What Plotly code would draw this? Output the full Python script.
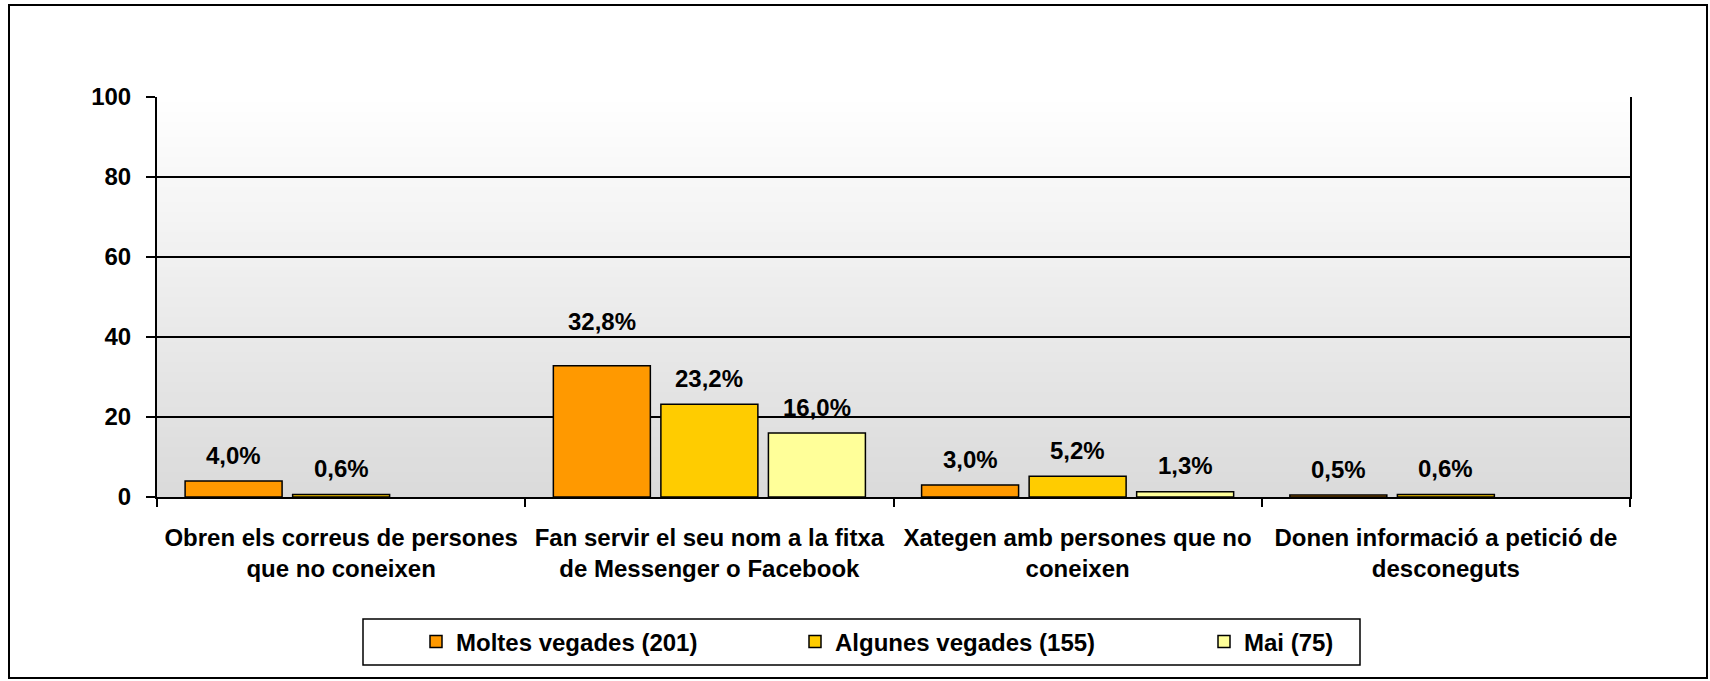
import plotly.graph_objects as go

categories = [
    "Obren els correus de persones<br>que no coneixen",
    "Fan servir el seu nom a la fitxa<br>de Messenger o Facebook",
    "Xategen amb persones que no<br>coneixen",
    "Donen informació a petició de<br>desconeguts",
]
series_names = ["Moltes vegades (201)", "Algunes vegades (155)", "Mai (75)"]
moltes = [4.0, 32.8, 3.0, 0.5]
algunes = [0.6, 23.2, 5.2, 0.6]
mai = [None, 16.0, 1.3, None]
y_ticks = [0, 20, 40, 60, 80, 100]

series_values = [moltes, algunes, mai]
colors = ["#FF9900", "#FFCC00", "#FFFF99"]

W, H = 1710, 681
L, R, T, B = 157, 80, 97, 184
PW, PH = W - L - R, H - T - B

FONT = dict(family="Liberation Sans, Arial, sans-serif", size=24, color="black", weight="bold")

fig = go.Figure()
legend_names = ["legend", "legend2", "legend3"]
for name, vals, col, lg in zip(series_names, series_values, colors, legend_names):
    fig.add_trace(go.Bar(
        x=categories, y=vals, name=name, legend=lg,
        marker=dict(color=col, line=dict(color="black", width=1.5)),
    ))

# data labels
slot = 107.5
xshifts = [-slot, 0, slot]
label_lift = [[26, 44, 26, 26], [26, 26, 26, 26], [26, 26, 26, 26]]
for si, vals in enumerate(series_values):
    for ci, v in enumerate(vals):
        if v is None:
            continue
        fig.add_annotation(
            x=categories[ci], y=v, xref="x", yref="y",
            text=f"{v:.1f}".replace(".", ",") + "%",
            showarrow=False, xshift=xshifts[si], yshift=label_lift[si][ci],
            yanchor="middle", font=FONT,
        )

# gradient background bands
N = 80
top_c, bot_c = 255, 218
for i in range(N):
    f = (i + 0.5) / N
    c = round(bot_c + (top_c - bot_c) * f)
    fig.add_shape(type="rect", xref="x domain", yref="y domain",
                  x0=0, x1=1, y0=i / N, y1=(i + 1) / N,
                  fillcolor=f"rgb({c},{c},{c})", line=dict(width=0), layer="below")

def px_to_paper_x(px):
    return (px - L) / PW

def px_to_paper_y(py):
    return (H - B - py) / PH

# outer frame
fig.add_shape(type="rect", xref="paper", yref="paper",
              x0=px_to_paper_x(9), x1=px_to_paper_x(1707),
              y0=px_to_paper_y(678), y1=px_to_paper_y(5),
              line=dict(color="black", width=2), fillcolor="rgba(0,0,0,0)")
# legend box
fig.add_shape(type="rect", xref="paper", yref="paper",
              x0=px_to_paper_x(363), x1=px_to_paper_x(1360),
              y0=px_to_paper_y(665), y1=px_to_paper_y(619),
              line=dict(color="black", width=1.5), fillcolor="rgba(0,0,0,0)")

marker_centers = [432, 811, 1220]
legend_cfg = {}
for lg, mc in zip(legend_names, marker_centers):
    legend_cfg[lg] = dict(
        x=px_to_paper_x(mc - 16), y=px_to_paper_y(642),
        xanchor="left", yanchor="middle", orientation="h",
        bgcolor="rgba(0,0,0,0)", borderwidth=0, font=FONT,
    )

fig.update_layout(
    width=W, height=H,
    margin=dict(l=L, r=R, t=T, b=B, autoexpand=False),
    paper_bgcolor="white", plot_bgcolor="white",
    barmode="group", bargap=0.124, bargroupgap=0.098,
    font=FONT,
    showlegend=True,
    **legend_cfg,
)
fig.update_xaxes(
    type="category", showline=True, linecolor="black", linewidth=2,
    ticks="outside", tickson="boundaries", ticklen=8, tickwidth=2, tickcolor="black",
    showgrid=False, tickfont=FONT, ticklabelstandoff=18,
)
fig.update_yaxes(
    range=[0, 100], tickvals=y_ticks, showline=True, mirror=True, linecolor="black", linewidth=2,
    ticks="outside", ticklen=9, tickwidth=2, tickcolor="black",
    showgrid=True, gridcolor="black", gridwidth=1.5, zeroline=False,
    tickfont=FONT, ticklabelstandoff=10,
)

fig.write_html(
    "out.html",
    config={"displayModeBar": False},
    post_script="document.body.style.margin='0';document.body.style.overflow='hidden';",
)
